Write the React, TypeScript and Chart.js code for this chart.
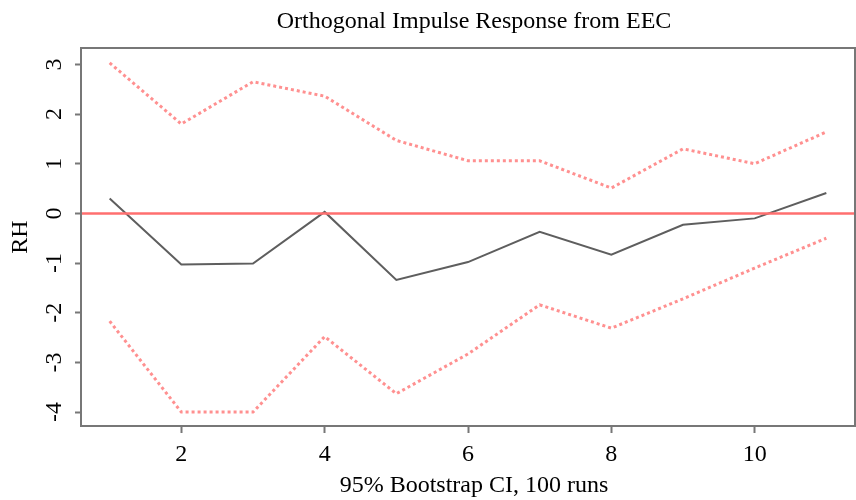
import React, { useEffect, useRef } from "react";
import { Chart, registerables } from "chart.js";

Chart.register(...registerables);

const steps = [1, 2, 3, 4, 5, 6, 7, 8, 9, 10, 11];
const response = [0.3, -1.03, -1.01, 0.03, -1.34, -0.98, -0.37, -0.83, -0.23, -0.1, 0.41];
const upperCI = [3.03, 1.8, 2.65, 2.36, 1.47, 1.06, 1.06, 0.51, 1.3, 1.0, 1.64];
const lowerCI = [-2.17, -4.0, -4.0, -2.48, -3.63, -2.83, -1.84, -2.31, -1.72, -1.1, -0.5];
const xTicks = [2, 4, 6, 8, 10];
const yTicks = [-4, -3, -2, -1, 0, 1, 2, 3];
const titleText = "Orthogonal Impulse Response from EEC";
const xTitle = "95% Bootstrap CI, 100 runs";
const yTitle = "RH";

const FONT = "'Liberation Serif', 'DejaVu Serif', serif";
const FS = 24;

const rPlotPlugin = {
  id: "rPlot",
  afterDatasetsDraw(chart: any) {
    const { ctx, chartArea, scales } = chart;
    const y0 = scales.y.getPixelForValue(0);
    ctx.save();
    ctx.strokeStyle = "#ff6f6f";
    ctx.lineWidth = 2.5;
    ctx.beginPath();
    ctx.moveTo(chartArea.left, y0);
    ctx.lineTo(chartArea.right, y0);
    ctx.stroke();
    ctx.restore();
  },
  afterDraw(chart: any) {
    const { ctx, chartArea, scales } = chart;
    ctx.save();
    // box
    ctx.strokeStyle = "#777";
    ctx.lineWidth = 2;
    ctx.strokeRect(chartArea.left, chartArea.top, chartArea.right - chartArea.left, chartArea.bottom - chartArea.top);
    // y tick labels rotated
    ctx.fillStyle = "#000";
    ctx.font = `${FS}px ${FONT}`;
    ctx.textAlign = "center";
    ctx.textBaseline = "middle";
    yTicks.forEach((v) => {
      const py = scales.y.getPixelForValue(v);
      ctx.save();
      ctx.translate(chartArea.left - 26, py);
      ctx.rotate(-Math.PI / 2);
      ctx.fillText(String(v), 0, 0);
      ctx.restore();
    });
    const cx = (chartArea.left + chartArea.right) / 2 + 6;
    ctx.fillText(titleText, cx, 22);
    ctx.fillText(xTitle, cx, 486);
    ctx.restore();
  },
};

export default function App() {
  const ref = useRef<HTMLCanvasElement | null>(null);
  useEffect(() => {
    document.body.style.margin = "0";
    const canvas = ref.current;
    if (!canvas) return;
    const toPts = (arr: number[]) => steps.map((s, i) => ({ x: s, y: arr[i] }));
    const chart = new Chart(canvas, {
      type: "line",
      data: {
        datasets: [
          {
            label: "upper",
            data: toPts(upperCI),
            borderColor: "#ff9090",
            borderWidth: 3,
            borderDash: [3, 3],
            pointRadius: 0,
            fill: false,
            tension: 0,
          },
          {
            label: "lower",
            data: toPts(lowerCI),
            borderColor: "#ff9090",
            borderWidth: 3,
            borderDash: [3, 3],
            pointRadius: 0,
            fill: false,
            tension: 0,
          },
          {
            label: "response",
            data: toPts(response),
            borderColor: "#5e5e5e",
            borderWidth: 2,
            pointRadius: 0,
            fill: false,
            tension: 0,
          },
        ],
      },
      options: {
        animation: false,
        responsive: true,
        maintainAspectRatio: false,
        layout: { padding: { top: 48, right: 1, left: 0, bottom: 0 } },
        plugins: {
          legend: { display: false },
          title: { display: false },
          tooltip: { enabled: false },
        },
        scales: {
          x: {
            type: "linear",
            min: 0.6,
            max: 11.4,
            afterBuildTicks: (s: any) => {
              s.ticks = xTicks.map((v) => ({ value: v }));
            },
            afterFit: (s: any) => {
              s.height = 74;
            },
            grid: {
              display: true,
              drawOnChartArea: false,
              drawTicks: true,
              tickLength: 7,
              tickWidth: 2,
              tickColor: "#777",
            },
            border: { display: true, color: "#777", width: 2 },
            ticks: {
              color: "#000",
              font: { family: FONT, size: FS },
              padding: 7,
              maxRotation: 0,
              autoSkip: false,
            },
            title: { display: false },
          },
          y: {
            type: "linear",
            min: -4.28,
            max: 3.33,
            afterBuildTicks: (s: any) => {
              s.ticks = yTicks.map((v) => ({ value: v }));
            },
            afterFit: (s: any) => {
              s.width = 81;
            },
            grid: {
              display: true,
              drawOnChartArea: false,
              drawTicks: true,
              tickLength: 6,
              tickWidth: 2,
              tickColor: "#777",
            },
            border: { display: true, color: "#777", width: 2 },
            ticks: { display: false },
            title: {
              display: true,
              text: yTitle,
              color: "#000",
              font: { family: FONT, size: FS },
              padding: { top: 6, bottom: 0 },
            },
          },
        },
      },
      plugins: [rPlotPlugin],
    });
    return () => chart.destroy();
  }, []);
  return (
    <div style={{ width: 856, height: 500, position: "relative" }}>
      <canvas ref={ref} />
    </div>
  );
}
